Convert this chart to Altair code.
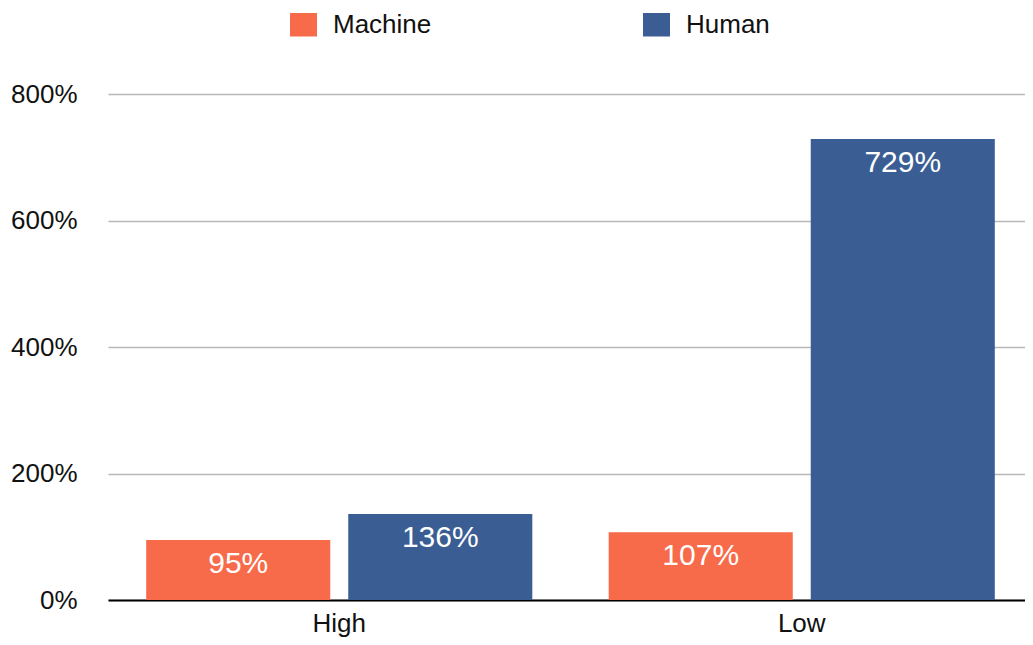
import altair as alt
import pandas as pd

categories = ["High", "High", "Low", "Low"]
series = ["Machine", "Human", "Machine", "Human"]
values = [95, 136, 107, 729]

df = pd.DataFrame({"cat": categories, "series": series, "value": values})
df["label"] = df["value"].astype(str) + "%"

FONT = "Liberation Sans"
color_scale = alt.Scale(domain=["Machine", "Human"], range=["#F76A4A", "#3A5E93"])

x_enc = alt.X("cat:N", title=None,
              scale=alt.Scale(paddingInner=0, paddingOuter=0, range=[0, 925]),
              axis=alt.Axis(labelAngle=0, ticks=False, domainColor="#000000", domainWidth=2,
                            labelFontSize=26, labelFont=FONT, labelColor="#111111",
                            labelPadding=10, grid=False))
xoff_enc = alt.XOffset("series:N", sort=["Machine", "Human"],
                       scale=alt.Scale(paddingInner=0.089, paddingOuter=0.189))
y_enc = alt.Y("value:Q", title=None,
              scale=alt.Scale(domain=[0, 800], nice=False),
              axis=alt.Axis(values=[0, 200, 400, 600, 800], labelExpr="datum.value + '%'",
                            ticks=False, domain=False, gridColor="#B8B8B8", gridWidth=1.5,
                            labelFontSize=26, labelFont=FONT, labelColor="#111111",
                            labelPadding=31))

base = alt.Chart(df)

bars = base.mark_bar().encode(
    x=x_enc,
    xOffset=xoff_enc,
    y=y_enc,
    color=alt.Color("series:N", scale=color_scale, sort=["Machine", "Human"],
                    legend=alt.Legend(title=None, orient="none", direction="horizontal",
                                      legendX=182, legendY=-83, padding=0,
                                      symbolType="M-1,-0.87H1V0.87H-1Z", symbolSize=729,
                                      symbolStrokeWidth=0, symbolOpacity=1,
                                      labelFontSize=26, labelFont=FONT, labelColor="#111111",
                                      labelOffset=16, columnPadding=211)),
)

text = base.mark_text(color="white", fontSize=30, font=FONT, baseline="middle", dy=24).encode(
    x=x_enc,
    xOffset=xoff_enc,
    y=y_enc,
    text="label:N",
)

chart = alt.layer(bars, text).properties(
    width=917, height=506,
    autosize=alt.AutoSizeParams(type="none"),
    padding={"left": 100, "top": 86, "right": 0, "bottom": 37},
).configure_view(stroke=None)

chart.save("out.html", embed_options={"renderer": "svg", "actions": False})
